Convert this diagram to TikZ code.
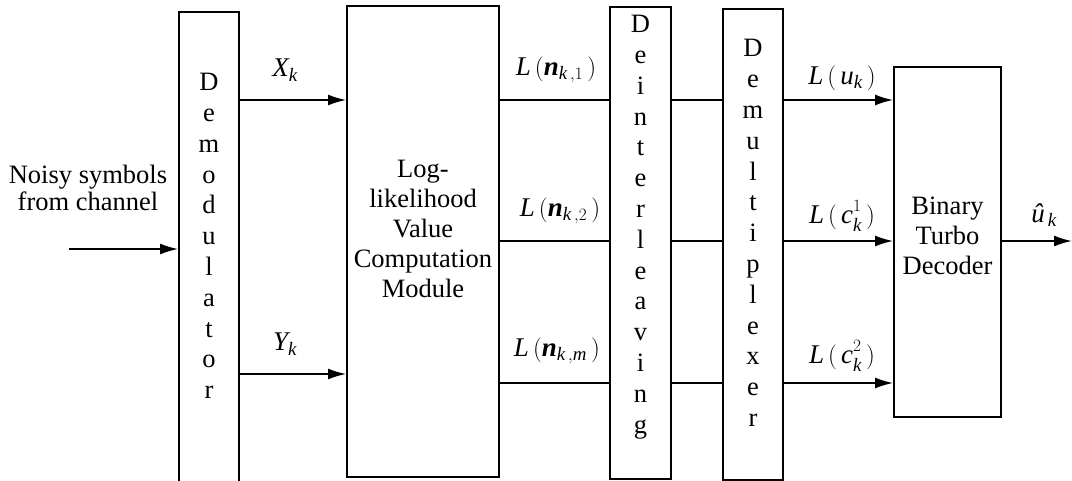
\documentclass[tikz,border=0pt]{standalone}
\usepackage{amsmath}
\usepackage{fontspec}
\setmainfont{Liberation Serif}
\usetikzlibrary{arrows.meta}

\newcommand{\bnk}{\text{\bfseries\itshape n}}
\newcommand{\ckj}[1]{\mathit{c}_{\raisebox{-2pt}{$\scriptstyle\mathit{k}$}}^{\raisebox{3pt}{$\scriptstyle #1$}}}

\begin{document}
\begin{tikzpicture}[x=1pt,y=-1pt]

	\tikzstyle box lines=[draw, line width=1.8pt, inner sep=0pt];
	\tikzstyle signal lines=[line width=1.8pt];
	\tikzstyle arrow lines=[line width=1.8pt, -{Latex[length=18pt,width=11pt]}];
	\tikzstyle block text=[font=\fontsize{26.5}{30}\selectfont, align=center, inner sep=0pt];
	\tikzstyle letter text=[font=\fontsize{26.5}{30.8}\selectfont, align=center, inner sep=0pt];
	\tikzstyle signal text=[font=\fontsize{27}{30}\selectfont, inner sep=0pt];

	\clip (0,0) rectangle (1072,481);

	% blocks
	\node[box lines, minimum width=60pt, minimum height=508pt] (demod) at (209,266) {};
	\node[box lines, minimum width=152pt, minimum height=471pt] (llr) at (423,241.5) {};
	\node[box lines, minimum width=61pt, minimum height=472pt] (deint) at (640.5,243) {};
	\node[box lines, minimum width=60pt, minimum height=471pt] (demux) at (753,244.5) {};
	\node[box lines, minimum width=107pt, minimum height=350pt] (turbo) at (947.5,242) {};

	% block names, letters stacked in the narrow ones
	\node[letter text] (demodname) at (209,236) {D\\e\\m\\o\\d\\u\\l\\a\\t\\o\\r};
	\node[letter text] (deintname) at (640.5,227) {D\\e\\i\\n\\t\\e\\r\\l\\e\\a\\v\\i\\n\\g};
	\node[letter text] (demuxname) at (753,233) {D\\e\\m\\u\\l\\t\\i\\p\\l\\e\\x\\e\\r};
	\node[block text] (llrname) at (423,229) {Log-\\likelihood\\Value\\Computation\\Module};
	\node[block text] (turboname) at (947.5,236) {Binary\\Turbo\\Decoder};
	\node[font=\fontsize{26.5}{27}\selectfont, align=center, inner sep=0pt] (source) at (88,188) {Noisy symbols\\from channel};

	% signal rows
	\coordinate (in) at (69,249);
	\coordinate (out) at (1072,241);
	\coordinate (rx) at (0,100);
	\coordinate (ry) at (0,374);
	\coordinate (ra) at (0,100);
	\coordinate (rb) at (0,241);
	\coordinate (rc) at (0,383);

	\draw[arrow lines] (in) -- (in -| demod.west);
	\draw[arrow lines] (demod.east |- rx) -- (llr.west |- rx);
	\draw[arrow lines] (demod.east |- ry) -- (llr.west |- ry);

	\foreach \r in {ra,rb,rc}
	{
		\draw[signal lines] (llr.east |- \r) -- (deint.west |- \r);
		\draw[signal lines] (deint.east |- \r) -- (demux.west |- \r);
		\draw[arrow lines] (demux.east |- \r) -- (turbo.west |- \r);
	}

	\draw[arrow lines] (turbo.east |- out) -- (out);

	% signal labels
	\node[signal text] (xk) at (285,70) {$\mathit{X}_{\mathit{k}}$};
	\node[signal text] (yk) at (285,344) {$\mathit{Y}_{\mathit{k}}$};
	\node[signal text] (nk1) at (556,70) {$\mathit{L}\,(\bnk_{\mathit{k}\,,1}\,)$};
	\node[signal text] (nk2) at (560,211) {$\mathit{L}\,(\bnk_{\mathit{k}\,,2}\,)$};
	\node[signal text] (nkm) at (557,351) {$\mathit{L}\,(\bnk_{\mathit{k}\,,\mathit{m}}\,)$};
	\node[signal text] (uk) at (842,78) {$\mathit{L}\,(\,\mathit{u}_{\mathit{k}}\,)$};
	\node[signal text] (ck1) at (842,216) {$\mathit{L}\,(\,\ckj{1}\,)$};
	\node[signal text] (ck2) at (842,356) {$\mathit{L}\,(\,\ckj{2}\,)$};
	\node[signal text] (uhat) at (1044,215) {$\text{\itshape û}_{\,\mathit{k}}$};

\end{tikzpicture}
\end{document}
